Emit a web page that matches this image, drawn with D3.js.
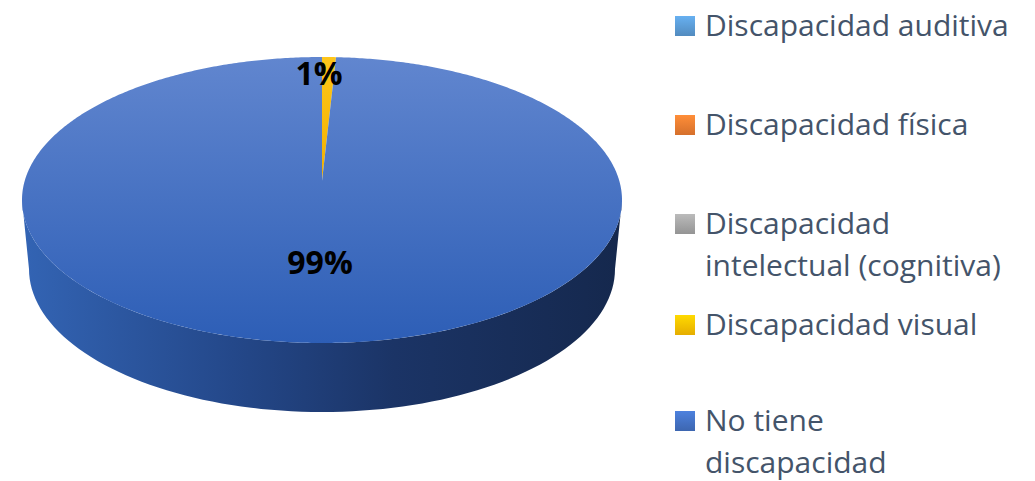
<!DOCTYPE html>
<html lang="es">
<head>
  <meta charset="UTF-8">
  <title>Tipo de discapacidad</title>
  <script src="https://d3js.org/d3.v7.min.js"></script>
  <style>
    body { margin: 0; background: #fff; }
    svg { display: block; }
    text { font-variant-ligatures: none; }
  </style>
</head>
<body>
  <div id="chart"></div>
  <script>
    // Data (percent of respondents)
    const categories = ["Discapacidad auditiva", "Discapacidad física", "Discapacidad intelectual (cognitiva)", "Discapacidad visual", "No tiene discapacidad"];
    const values = [0, 0, 0, 0.85, 99.15];
    const legendLines = [["Discapacidad auditiva"], ["Discapacidad física"], ["Discapacidad", "intelectual (cognitiva)"], ["Discapacidad visual"], ["No tiene", "discapacidad"]];
    const colors = ["#5b9bd5", "#ed7d31", "#a5a5a5", "#ffc000", "#4472c4"];

    const width = 1035, height = 481;

    // Pie geometry (3D look: top ellipse, side band, slight perspective)
    const cx = 322, cyTop = 200, rx = 300, ry = 143, depth = 69, rxBottom = 293;
    const t = -19 / ry;               // shifts the projected centre toward the back
    const s = Math.sqrt(1 - t * t);

    // project angle a (clockwise from 12 o'clock) and radius r (0..1) onto the tilted disk
    function proj(a, r, cy, rxx) {
      const x = r * Math.sin(a), y = -r * Math.cos(a);
      const d = 1 + t * y;
      return [cx + rxx * x * s / d, cy + ry * (y + t) / d];
    }

    const svg = d3.select("#chart").append("svg").attr("width", width).attr("height", height);
    const defs = svg.append("defs");

    // gradients
    const topGrad = defs.append("linearGradient").attr("id", "topBlue").attr("x1", 0).attr("y1", 0).attr("x2", 0).attr("y2", 1);
    topGrad.append("stop").attr("offset", "0%").attr("stop-color", "#6186cf");
    topGrad.append("stop").attr("offset", "100%").attr("stop-color", "#2d5eb6");

    const sideGrad = defs.append("linearGradient").attr("id", "sideBlue").attr("x1", 0).attr("y1", 0).attr("x2", 1).attr("y2", 0);
    sideGrad.append("stop").attr("offset", "0%").attr("stop-color", "#3364b4");
    sideGrad.append("stop").attr("offset", "35%").attr("stop-color", "#24488a");
    sideGrad.append("stop").attr("offset", "62%").attr("stop-color", "#1b3466");
    sideGrad.append("stop").attr("offset", "100%").attr("stop-color", "#15284d");

    const yelGrad = defs.append("linearGradient").attr("id", "topYellow").attr("x1", 0).attr("y1", 0).attr("x2", 0).attr("y2", 1);
    yelGrad.append("stop").attr("offset", "0%").attr("stop-color", "#ffc61a");
    yelGrad.append("stop").attr("offset", "100%").attr("stop-color", "#f0b000");

    colors.forEach((c, i) => {
      const g = defs.append("linearGradient").attr("id", "leg" + i).attr("x1", 0).attr("y1", 0).attr("x2", 0).attr("y2", 1);
      g.append("stop").attr("offset", "0%").attr("stop-color", d3.color(c).brighter(0.35));
      g.append("stop").attr("offset", "100%").attr("stop-color", d3.color(c).darker(0.3));
    });

    const line = d3.line();

    // side band (front half of the disk, only the big slice shows there)
    const front = d3.range(0, 181, 2).map(deg => deg * Math.PI / 180);
    const sidePts = front.map(p => [cx + rx * Math.cos(p), cyTop + ry * Math.sin(p)])
      .concat(front.slice().reverse().map(p => [cx + rxBottom * Math.cos(p), cyTop + depth + ry * Math.sin(p)]));
    svg.append("path").attr("d", line(sidePts) + "Z").attr("fill", "url(#sideBlue)");

    // top slices
    const pie = d3.pie().sort(null).value(d => d)(values);
    const topFill = ["url(#leg0)", "url(#leg1)", "url(#leg2)", "url(#topYellow)", "url(#topBlue)"];
    pie.forEach((p, i) => {
      if (p.endAngle - p.startAngle <= 0) return;
      const n = Math.max(2, Math.ceil((p.endAngle - p.startAngle) / 0.01));
      const pts = [proj(0, 0, cyTop, rx)];
      for (let k = 0; k <= n; k++) {
        const a = p.startAngle + (p.endAngle - p.startAngle) * k / n;
        pts.push(proj(a, 1, cyTop, rx));
      }
      svg.append("path").attr("d", line(pts) + "Z").attr("fill", topFill[i]);
    });

    // data labels
    const total = d3.sum(values);
    const labelPos = { 3: [319, 85], 4: [320, 274] };
    pie.forEach((p, i) => {
      if (!labelPos[i]) return;
      svg.append("text")
        .attr("x", labelPos[i][0]).attr("y", labelPos[i][1])
        .attr("text-anchor", "middle")
        .attr("font-family", "'Open Sans', sans-serif")
        .attr("font-weight", 700)
        .attr("font-size", 32)
        .attr("fill", "#000")
        .text(Math.round(values[i] / total * 100) + "%");
    });

    // legend
    const rowY = [36, 135, 234, 335, 431];
    const legend = svg.append("g");
    categories.forEach((c, i) => {
      legend.append("rect")
        .attr("x", 675).attr("y", rowY[i] - 20)
        .attr("width", 20).attr("height", 20)
        .attr("fill", "url(#leg" + i + ")");
      const txt = legend.append("text")
        .attr("x", 705).attr("y", rowY[i])
        .attr("font-family", "'Open Sans', sans-serif")
        .attr("font-size", 30)
        .attr("fill", "#44546a");
      legendLines[i].forEach((l, j) => {
        txt.append("tspan").attr("x", 705).attr("dy", j === 0 ? 0 : 42).text(l);
      });
    });
  </script>
</body>
</html>
